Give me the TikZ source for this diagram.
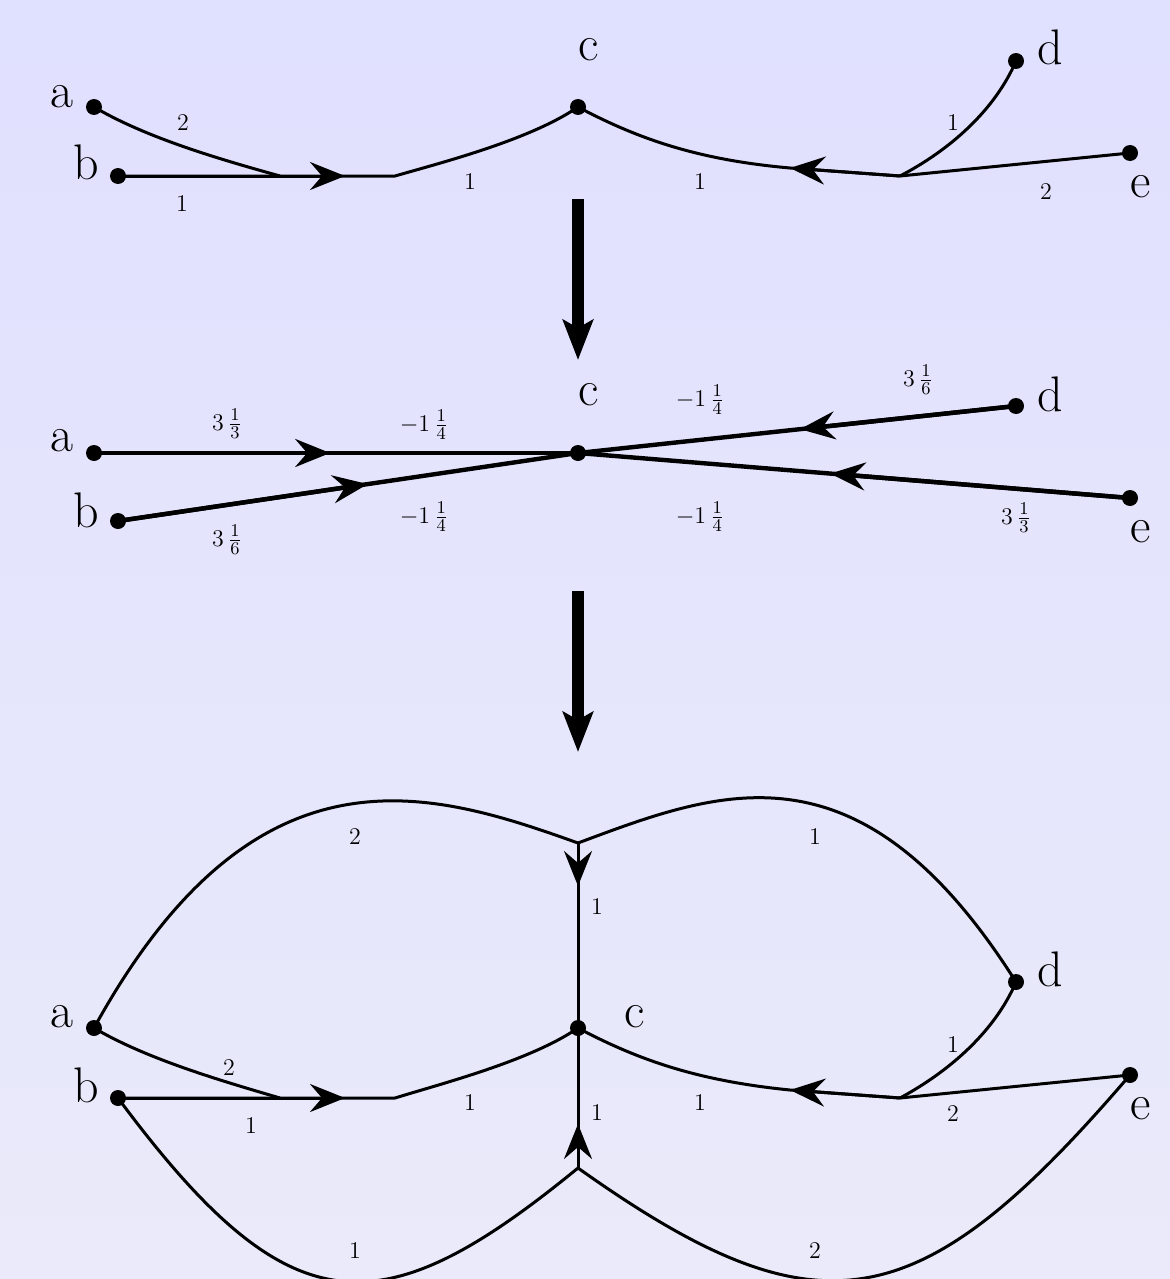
\documentclass[tikz,border=0pt]{standalone}
\usetikzlibrary{arrows.meta,calc}
\definecolor{bgtop}{RGB}{224,224,255}
\definecolor{bgbot}{RGB}{234,234,250}
\begin{document}
\begin{tikzpicture}[x=0.5pt,y=-0.5pt,
  vdot/.style={circle,fill=black,inner sep=0pt,minimum size=8pt},
  letter/.style={inner sep=0pt,font=\fontsize{25}{30}\selectfont},
  wlab/.style={inner sep=0pt,font=\fontsize{12}{14}\selectfont},
  mlab/.style={inner sep=0pt,font=\fontsize{12.5}{15}\selectfont},
  edge/.style={line width=1.5pt,line join=round},
  medge/.style={line width=2.2pt,line join=round},
  tip/.style={-{Stealth[length=17.5pt,width=14pt,inset=6pt]}},
  bigarrow/.style={line width=6pt,-{Stealth[length=20pt,width=15pt,inset=4pt]}}]
\fill[top color=bgtop,bottom color=bgbot] (0,0) rectangle (1170,1279);
\useasboundingbox (0,0) rectangle (1170,1279);
\clip (0,0) rectangle (1170,1279);

% ---------- top panel ----------
\node[vdot] (a1) at (94,107) {};
\node[vdot] (b1) at (118,176) {};
\node[vdot] (c1) at (578,107) {};
\node[vdot] (d1) at (1016,61) {};
\node[vdot] (e1) at (1130,153) {};
\node[letter] (la1) at (62,97) {a};
\node[letter] (lb1) at (86,162) {b};
\node[letter] (lc1) at (589,50) {c};
\node[letter] (ld1) at (1050,47) {d};
\node[letter] (le1) at (1141,187) {e};
\coordinate (j1) at (280,176);
\coordinate (p1) at (345,176);
\coordinate (j2) at (395,176);
\coordinate (q1) at (790,168);
\coordinate (j3) at (900,176);
\draw[edge] (a1.center) .. controls (145,137) and (215,158) .. (j1);
\draw[edge] (b1.center) -- (j2) .. controls (440,163) and (530,140) .. (c1.center);
\draw[edge,tip] (b1.center) -- (p1);
\draw[edge] (j3) -- (q1) .. controls (700,160) and (640,140) .. (c1.center);
\draw[edge,tip] (j3) -- (q1);
\draw[edge] (d1.center) .. controls (995,110) and (950,150) .. (j3);
\draw[edge] (e1.center) -- (j3);
\node[wlab] (w11) at (183,123) {2};
\node[wlab] (w12) at (182,204) {1};
\node[wlab] (w13) at (470,182) {1};
\node[wlab] (w14) at (700,182) {1};
\node[wlab] (w15) at (953,123) {1};
\node[wlab] (w16) at (1046,192) {2};

% ---------- big arrows ----------
\coordinate (s1) at (578,199);
\coordinate (s1e) at (578,360);
\coordinate (s2) at (578,591);
\coordinate (s2e) at (578,752);
\draw[bigarrow] (s1) -- (s1e);
\draw[bigarrow] (s2) -- (s2e);

% ---------- middle panel ----------
\node[vdot] (a2) at (94,453) {};
\node[vdot] (b2) at (118,521) {};
\node[vdot] (c2) at (578,453) {};
\node[vdot] (d2) at (1016,406) {};
\node[vdot] (e2) at (1130,498) {};
\node[letter] (la2) at (62,441) {a};
\node[letter] (lb2) at (86,510) {b};
\node[letter] (lc2) at (589,395) {c};
\node[letter] (ld2) at (1050,394) {d};
\node[letter] (le2) at (1141,532) {e};
\coordinate (m1) at ($(a2)!0.488!(c2)$);
\coordinate (m2) at ($(b2)!0.543!(c2)$);
\coordinate (m3) at ($(d2)!0.493!(c2)$);
\coordinate (m4) at ($(e2)!0.543!(c2)$);
\draw[medge] (a2.center) -- (c2.center);
\draw[medge] (b2.center) -- (c2.center);
\draw[medge] (d2.center) -- (c2.center);
\draw[medge] (e2.center) -- (c2.center);
\draw[medge,tip] (a2.center) -- (m1);
\draw[medge,tip] (b2.center) -- (m2);
\draw[medge,tip] (d2.center) -- (m3);
\draw[medge,tip] (e2.center) -- (m4);
\node[mlab] (w21) at (227,424) {$3\,\frac{1}{3}$};
\node[mlab] (w22) at (424,425) {$-1\,\frac{1}{4}$};
\node[mlab] (w23) at (424,517) {$-1\,\frac{1}{4}$};
\node[mlab] (w24) at (227,540) {$3\,\frac{1}{6}$};
\node[mlab] (w25) at (700,400) {$-1\,\frac{1}{4}$};
\node[mlab] (w26) at (918,380) {$3\,\frac{1}{6}$};
\node[mlab] (w27) at (700,517) {$-1\,\frac{1}{4}$};
\node[mlab] (w28) at (1016,518) {$3\,\frac{1}{3}$};

% ---------- bottom panel ----------
\node[vdot] (a3) at (94,1028) {};
\node[vdot] (b3) at (118,1098) {};
\node[vdot] (c3) at (578,1028) {};
\node[vdot] (d3) at (1016,982) {};
\node[vdot] (e3) at (1130,1075) {};
\node[letter] (la3) at (62,1017) {a};
\node[letter] (lb3) at (86,1085) {b};
\node[letter] (lc3) at (635,1017) {c};
\node[letter] (ld3) at (1050,969) {d};
\node[letter] (le3) at (1141,1109) {e};
\coordinate (j4) at (280,1098);
\coordinate (p4) at (345,1098);
\coordinate (j5) at (395,1098);
\coordinate (q4) at (790,1090);
\coordinate (j6) at (900,1098);
\coordinate (t3) at (578,843);
\coordinate (v1) at (578,886);
\coordinate (bb3) at (578,1168);
\coordinate (v2) at (578,1124);
\draw[edge] (a3.center) .. controls (145,1058) and (215,1079) .. (j4);
\draw[edge] (b3.center) -- (j5) .. controls (440,1084) and (530,1061) .. (c3.center);
\draw[edge,tip] (b3.center) -- (p4);
\draw[edge] (j6) -- (q4) .. controls (700,1081) and (640,1061) .. (c3.center);
\draw[edge,tip] (j6) -- (q4);
\draw[edge] (d3.center) .. controls (995,1031) and (950,1071) .. (j6);
\draw[edge] (e3.center) -- (j6);
\draw[edge] (a3.center) .. controls (255,735) and (430,790) .. (t3);
\draw[edge] (t3) .. controls (720,790) and (860,735) .. (d3.center);
\draw[edge] (t3) -- (c3.center);
\draw[edge,tip] (t3) -- (v1);
\draw[edge] (bb3) -- (c3.center);
\draw[edge,tip] (bb3) -- (v2);
\draw[edge] (b3.center) .. controls (290,1330) and (380,1330) .. (bb3);
\draw[edge] (bb3) .. controls (820,1340) and (920,1320) .. (e3.center);
\node[wlab] (w31) at (355,837) {2};
\node[wlab] (w32) at (815,837) {1};
\node[wlab] (w33) at (597,907) {1};
\node[wlab] (w34) at (229,1068) {2};
\node[wlab] (w35) at (251,1126) {1};
\node[wlab] (w36) at (470,1103) {1};
\node[wlab] (w37) at (597,1113) {1};
\node[wlab] (w38) at (700,1103) {1};
\node[wlab] (w39) at (953,1045) {1};
\node[wlab] (w40) at (953,1114) {2};
\node[wlab] (w41) at (355,1251) {1};
\node[wlab] (w42) at (815,1251) {2};
\end{tikzpicture}
\end{document}
